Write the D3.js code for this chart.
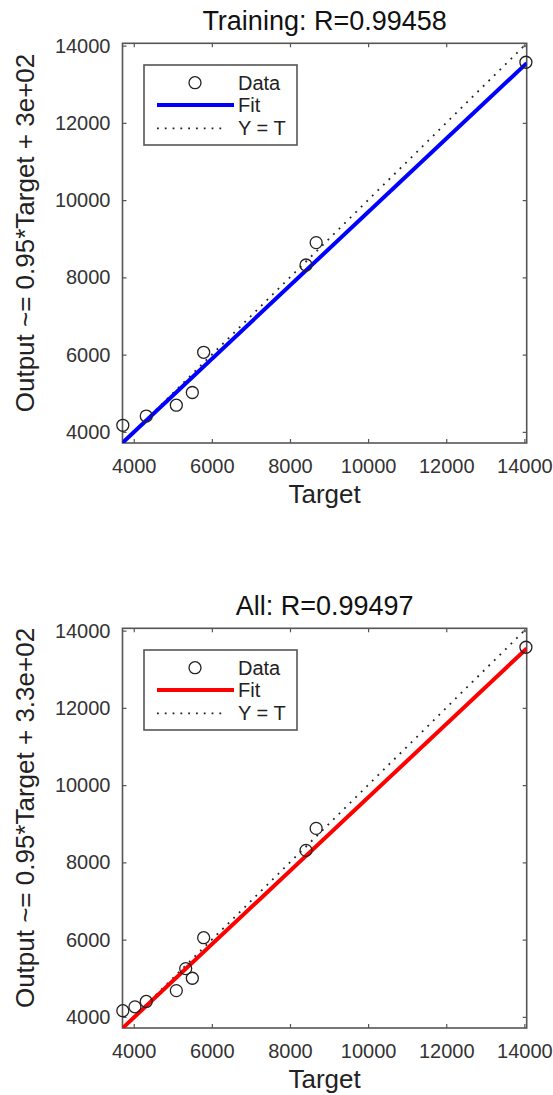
<!DOCTYPE html>
<html>
<head>
<meta charset="utf-8">
<script src="https://cdn.jsdelivr.net/npm/d3@7"></script>
<style>
  body { margin: 0; background: #fff; }
  svg { display: block; font-family: "Liberation Sans", Arial, sans-serif; }
  .tick-label { font-size: 20px; fill: #333; }
  .axis-label { font-size: 26px; fill: #222; }
  .title { font-size: 27px; fill: #111; }
  .legend-text { font-size: 20px; fill: #222; }
</style>
</head>
<body>
<svg id="chart" width="553" height="1095"></svg>
<script>
// Values
const panelTitles = ['Training: R=0.99458', 'All: R=0.99497'];
const yLabels = ['Output ~= 0.95*Target + 3e+02', 'Output ~= 0.95*Target + 3.3e+02'];
const fitColors = ['#0000ff', '#ff0000'];
const fitSlopes = [0.95, 0.95];
const fitIntercepts = [190, 180];

const trainTargets = [3720, 4320, 5090, 5500, 5790, 8410, 8670, 14040];
const trainOutputs = [4170, 4410, 4690, 5020, 6060, 8320, 8900, 13570];
const allTargets = [3720, 4030, 4320, 5090, 5330, 5500, 5790, 8410, 8670, 14040];
const allOutputs = [4160, 4260, 4400, 4680, 5250, 5000, 6050, 8310, 8880, 13570];

const axisLim = [3712, 14060];
const tickValues = [4000, 6000, 8000, 10000, 12000, 14000];
const legendLabels = ['Data', 'Fit', 'Y = T'];

const svg = d3.select('#chart');

/**
 * Draws one regression panel
 */
function drawPanel(i, targets, outputs, offsetY) {
    let left = 122.5, right = 526.7, top = 43.3 + offsetY, bottom = 443 + offsetY;
    let x = d3.scaleLinear().domain(axisLim).range([left, right]);
    let y = d3.scaleLinear().domain(axisLim).range([bottom, top]);
    let g = svg.append('g');

    let clipId = 'clip' + i;
    g.append('clipPath').attr('id', clipId)
        .append('rect')
        .attr('x', left).attr('y', top)
        .attr('width', right - left).attr('height', bottom - top);

    // axes with inward ticks on all four sides
    g.append('g').attr('transform', 'translate(0,' + bottom + ')')
        .call(d3.axisBottom(x).tickValues(tickValues).tickSize(-4).tickPadding(16).tickFormat(d3.format('d')));
    g.append('g').attr('transform', 'translate(0,' + top + ')')
        .call(d3.axisTop(x).tickValues(tickValues).tickSize(-4).tickFormat(''));
    g.append('g').attr('transform', 'translate(' + left + ',0)')
        .call(d3.axisLeft(y).tickValues(tickValues).tickSize(-4).tickPadding(12).tickFormat(d3.format('d')));
    g.append('g').attr('transform', 'translate(' + right + ',0)')
        .call(d3.axisRight(y).tickValues(tickValues).tickSize(-4).tickFormat(''));
    g.selectAll('.domain').remove();
    g.selectAll('.tick line').attr('stroke', '#555').attr('stroke-width', 1.2);
    g.selectAll('.tick text').attr('class', 'tick-label').attr('font-size', null).attr('font-family', null);

    g.append('rect')
        .attr('x', left).attr('y', top)
        .attr('width', right - left).attr('height', bottom - top)
        .attr('fill', 'none').attr('stroke', '#555').attr('stroke-width', 1.6);

    let plot = g.append('g').attr('clip-path', 'url(#' + clipId + ')');

    // Y = T
    plot.append('line')
        .attr('x1', x(axisLim[0])).attr('y1', y(axisLim[0]))
        .attr('x2', x(axisLim[1])).attr('y2', y(axisLim[1]))
        .attr('stroke', '#222').attr('stroke-width', 1.8)
        .attr('stroke-dasharray', '1.8,6');

    // fit
    let fit = d => fitSlopes[i] * d + fitIntercepts[i];
    plot.append('line')
        .attr('x1', x(axisLim[0])).attr('y1', y(fit(axisLim[0])))
        .attr('x2', x(axisLim[1])).attr('y2', y(fit(axisLim[1])))
        .attr('stroke', fitColors[i]).attr('stroke-width', 4);

    // data
    g.selectAll('circle.pt')
        .data(d3.zip(targets, outputs))
        .enter()
        .append('circle')
        .attr('class', 'pt')
        .attr('cx', d => x(d[0]))
        .attr('cy', d => y(d[1]))
        .attr('r', 6)
        .attr('fill', 'none')
        .attr('stroke', '#222')
        .attr('stroke-width', 1.3);

    // title and labels
    g.append('text').attr('class', 'title')
        .attr('x', (left + right) / 2).attr('y', 30 + offsetY)
        .attr('text-anchor', 'middle').text(panelTitles[i]);
    g.append('text').attr('class', 'axis-label')
        .attr('x', (left + right) / 2).attr('y', 503 + offsetY)
        .attr('text-anchor', 'middle').text('Target');
    g.append('text').attr('class', 'axis-label')
        .attr('transform', 'translate(34,' + (233 + offsetY) + ') rotate(-90)')
        .attr('text-anchor', 'middle').text(yLabels[i]);

    // legend
    let lg = g.append('g').attr('transform', 'translate(144,' + (65 + offsetY) + ')');
    lg.append('rect').attr('width', 153).attr('height', 80)
        .attr('fill', '#fff').attr('stroke', '#555').attr('stroke-width', 1.6);
    lg.append('circle').attr('cx', 51).attr('cy', 17.7).attr('r', 6)
        .attr('fill', 'none').attr('stroke', '#222').attr('stroke-width', 1.3);
    lg.append('line').attr('x1', 13).attr('x2', 90).attr('y1', 40).attr('y2', 40)
        .attr('stroke', fitColors[i]).attr('stroke-width', 4);
    lg.append('line').attr('x1', 13).attr('x2', 82).attr('y1', 63.3).attr('y2', 63.3)
        .attr('stroke', '#222').attr('stroke-width', 1.8).attr('stroke-dasharray', '1.8,6');
    lg.selectAll('text.legend-text')
        .data(legendLabels)
        .enter()
        .append('text')
        .attr('class', 'legend-text')
        .attr('x', 94)
        .attr('y', (d, k) => [24.5, 47, 70][k])
        .text(d => d);
}

drawPanel(0, trainTargets, trainOutputs, 0);
drawPanel(1, allTargets, allOutputs, 585);
</script>
</body>
</html>
